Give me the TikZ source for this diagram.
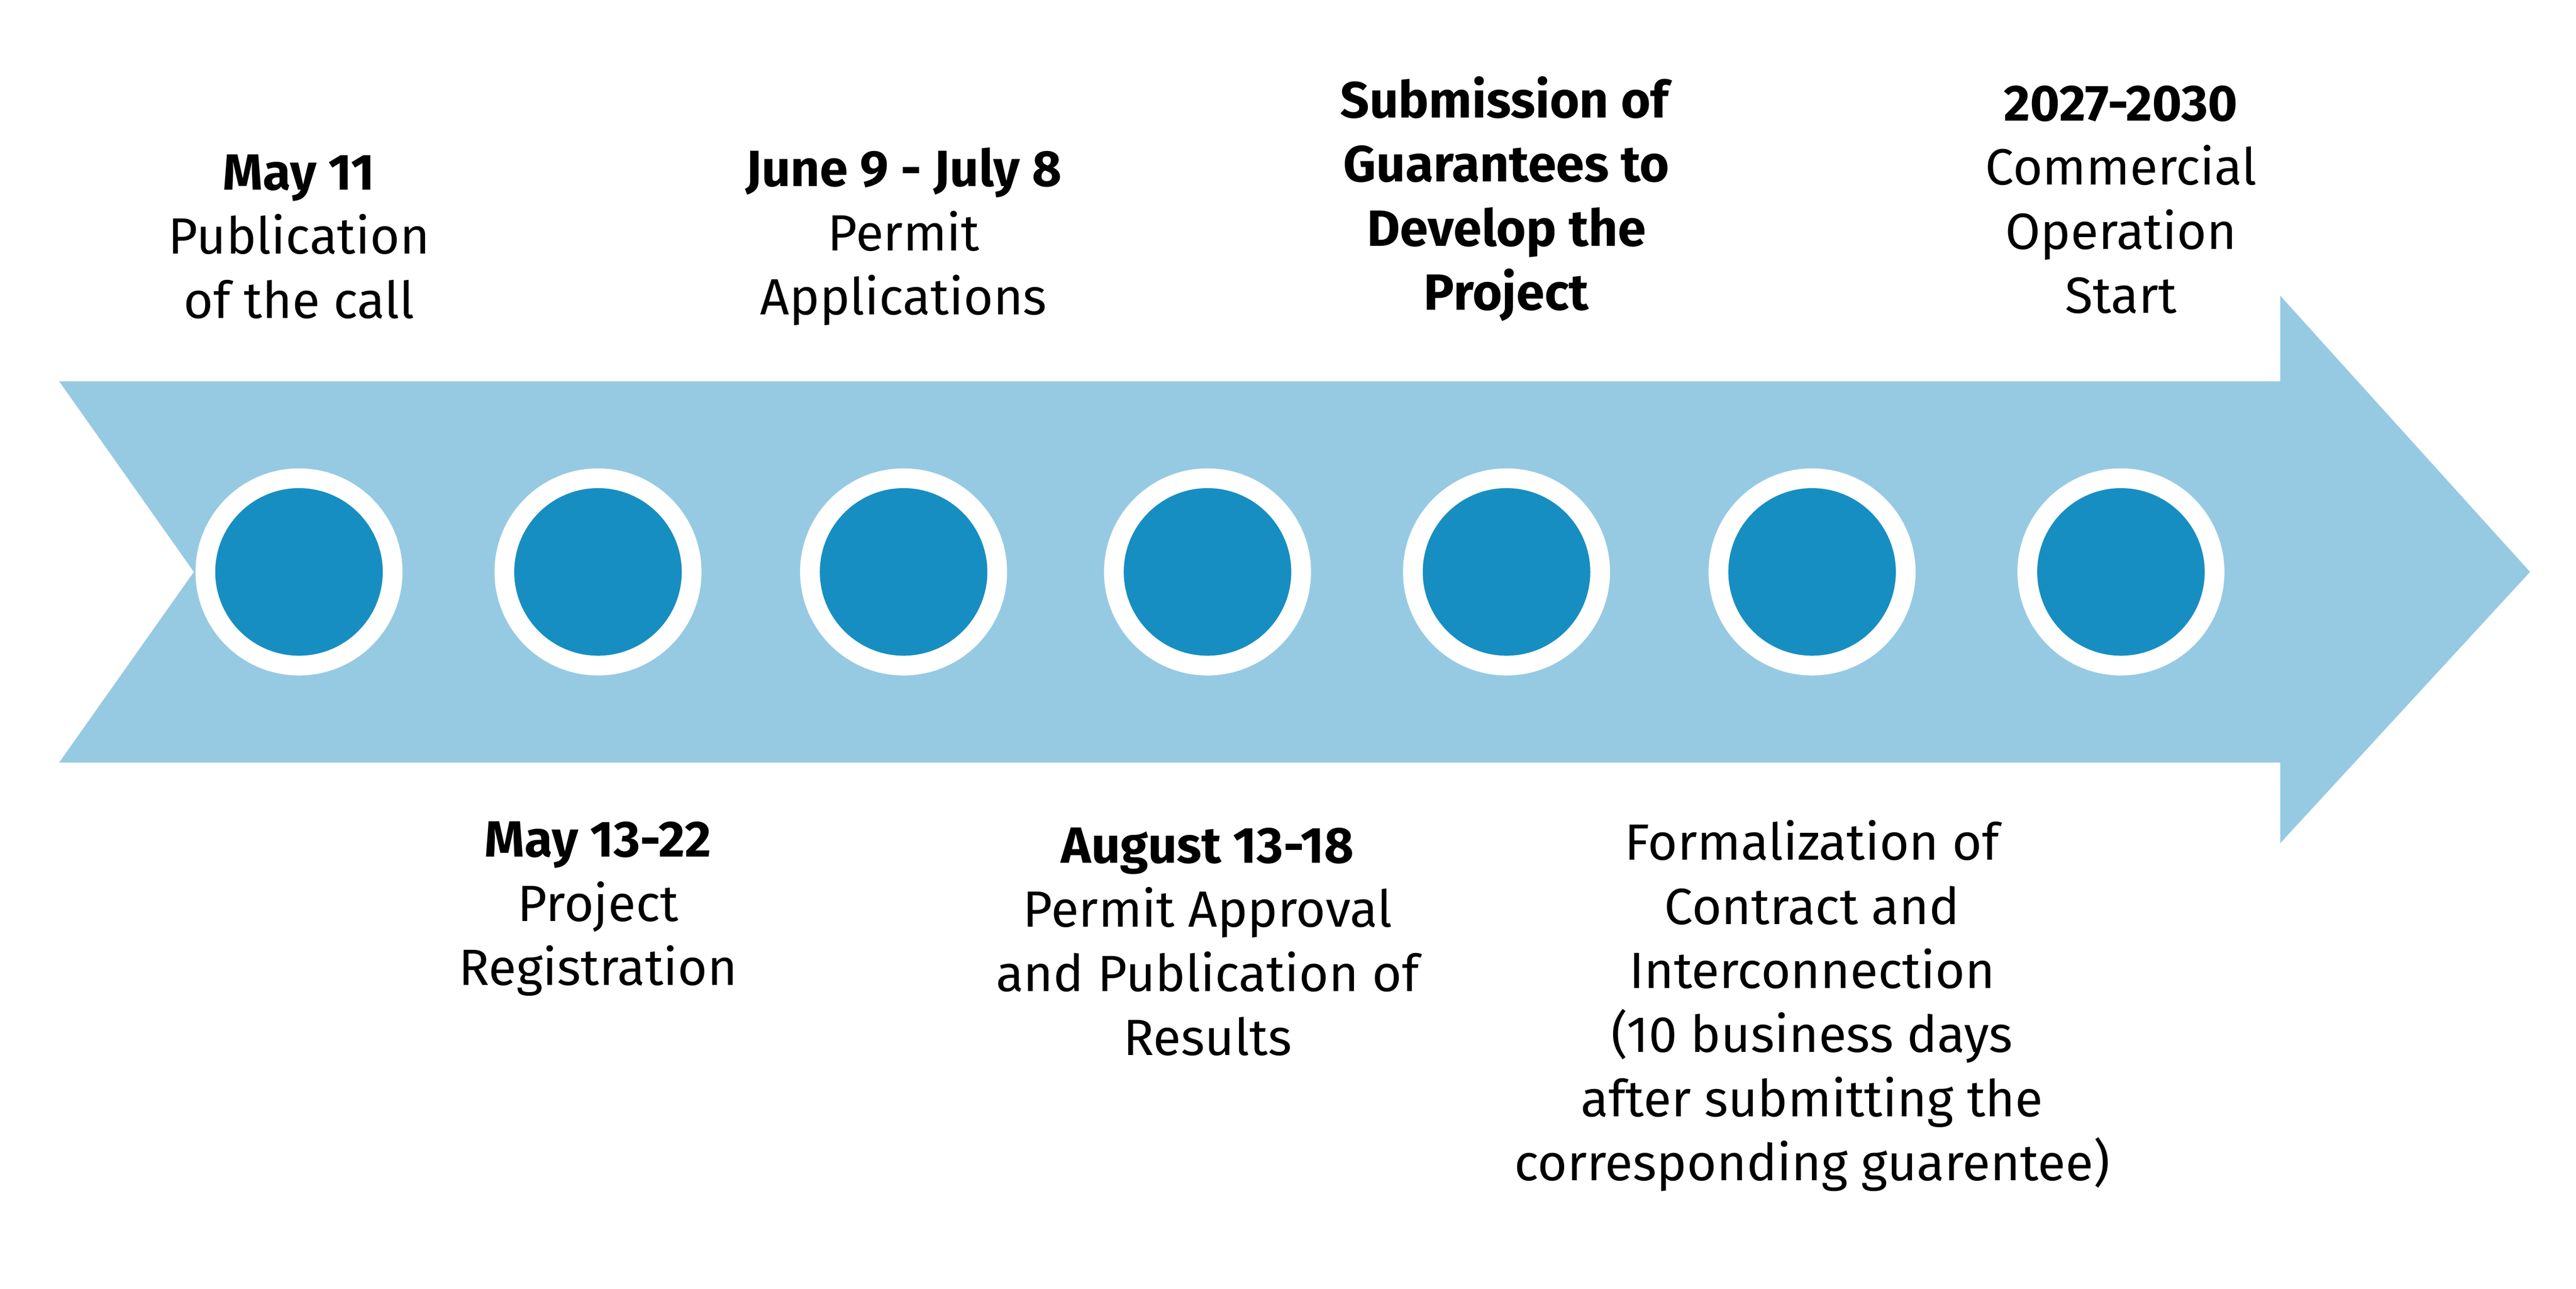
\documentclass[tikz,border=0pt]{standalone}
\usepackage{fontspec}
\setmainfont{Fira Sans}
\definecolor{arrowblue}{HTML}{96CAE2}
\definecolor{dotblue}{HTML}{178EC1}
\begin{document}
\begin{tikzpicture}[x=1pt,y=1pt,
  lbl/.style={align=center,font=\fontsize{31}{39}\selectfont,inner sep=0pt},
  dot/.style={circle,fill=dotblue,draw=white,line width=12pt,minimum size=114pt,inner sep=0pt}]
\useasboundingbox (0,0) rectangle (1568,784);
\fill[arrowblue] (36,552) -- (1388,552) -- (1388,604) -- (1540,436) -- (1388,271) -- (1388,320) -- (36,320) -- (118,436) -- cycle;
\foreach \n/\x in {1/182,2/364,3/550,4/735,5/917,6/1103,7/1291}
  \node[dot] (c\n) at (\x,436) {};
\node[lbl] (t1) at (182,640) {\textbf{May 11}\\Publication\\of the call};
\node[lbl] (t3) at (550,640) {\textbf{June 9 - July 8}\\Permit\\Applications};
\node[lbl] (t5) at (917,663) {\textbf{Submission of}\\\textbf{Guarantees to}\\\textbf{Develop the}\\\textbf{Project}};
\node[lbl] (t7) at (1291,662.5) {\textbf{2027-2030}\\Commercial\\Operation\\Start};
\node[lbl] (t2) at (364,231) {\textbf{May 13-22}\\Project\\Registration};
\node[lbl] (t4) at (735,211) {\textbf{August 13-18}\\Permit Approval\\and Publication of\\Results};
\node[lbl] (t6) at (1103,172) {Formalization of\\Contract and\\Interconnection\\(10 business days\\after submitting the\\corresponding guarentee)};
\end{tikzpicture}
\end{document}
